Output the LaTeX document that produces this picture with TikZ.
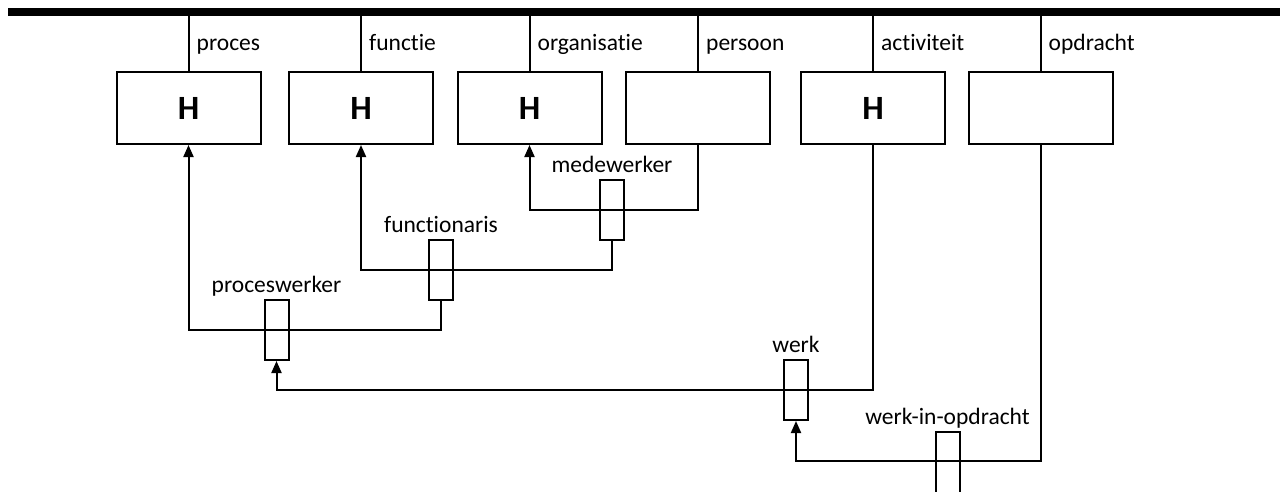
\documentclass[tikz,border=0pt]{standalone}
\usepackage{fontspec}
\setmainfont[Ligatures=NoCommon]{Carlito}
\usetikzlibrary{arrows.meta,calc}

\tikzset{
  entity/.style={draw, line width=2pt, minimum width=144pt, minimum height=72pt,
                 inner sep=0pt, font=\fontsize{34}{40}\selectfont\bfseries},
  relbox/.style={draw, line width=2pt, minimum width=24pt, minimum height=60pt, inner sep=0pt},
  lbl/.style={inner sep=0pt, font=\fontsize{23.5}{28}\selectfont},
  link/.style={line width=2pt},
  arrowlink/.style={line width=2pt, -{Triangle[width=10pt,length=12pt]}},
}

\begin{document}
\begin{tikzpicture}[x=1pt, y=-1pt]
  \useasboundingbox (0,0) rectangle (1288,491);
  \clip (0,0) rectangle (1288,491);

  % top bar
  \coordinate (barL) at (8,12);
  \coordinate (barR) at (1280,12);
  \draw[line width=8pt] (barL) -- (barR);
  \coordinate (barbase) at (0,16);

  % entity boxes
  \node[entity] (proces)      at (188.5,108) {H};
  \node[entity] (functie)     at (361,108)   {H};
  \node[entity] (organisatie) at (529.5,108) {H};
  \node[entity] (persoon)     at (698,108)   {};
  \node[entity] (activiteit)  at (873,108)   {H};
  \node[entity] (opdracht)    at (1040.5,108) {};

  % stems with names
  \foreach \n in {proces,functie,organisatie,persoon,activiteit,opdracht}{
    \draw[link] (\n.north) -- (\n.north |- barbase);
    \path (\n.north) ++(8,-21) node[lbl, anchor=base west] (\n-name) {\n};
  }

  % relation boxes
  \node[relbox] (medewerker)   at (612,210)   {};
  \node[relbox] (functionaris) at (441,270)   {};
  \node[relbox] (proceswerker) at (276.5,330) {};
  \node[relbox] (werk)         at (796,390)   {};
  \node[relbox, minimum height=80pt] (wio) at (947.5,472) {};

  % relation labels
  \foreach \r/\t in {medewerker/medewerker, functionaris/functionaris,
                     proceswerker/proceswerker, werk/werk, wio/werk-in-opdracht}{
    \path (\r.north) ++(0,-6.5) node[lbl, anchor=base] (\r-label) {\t};
  }

  % connectors
  \draw[arrowlink] (persoon.south)      |- (medewerker.center)   -| (organisatie.south);
  \draw[arrowlink] (medewerker.south)   |- (functionaris.center) -| (functie.south);
  \draw[arrowlink] (functionaris.south) |- (proceswerker.center) -| (proces.south);
  \draw[arrowlink] (activiteit.south)   |- (werk.center)         -| (proceswerker.south);
  \draw[arrowlink] (opdracht.south)     |- ($(wio.north)+(0,30)$) -| (werk.south);
\end{tikzpicture}
\end{document}
